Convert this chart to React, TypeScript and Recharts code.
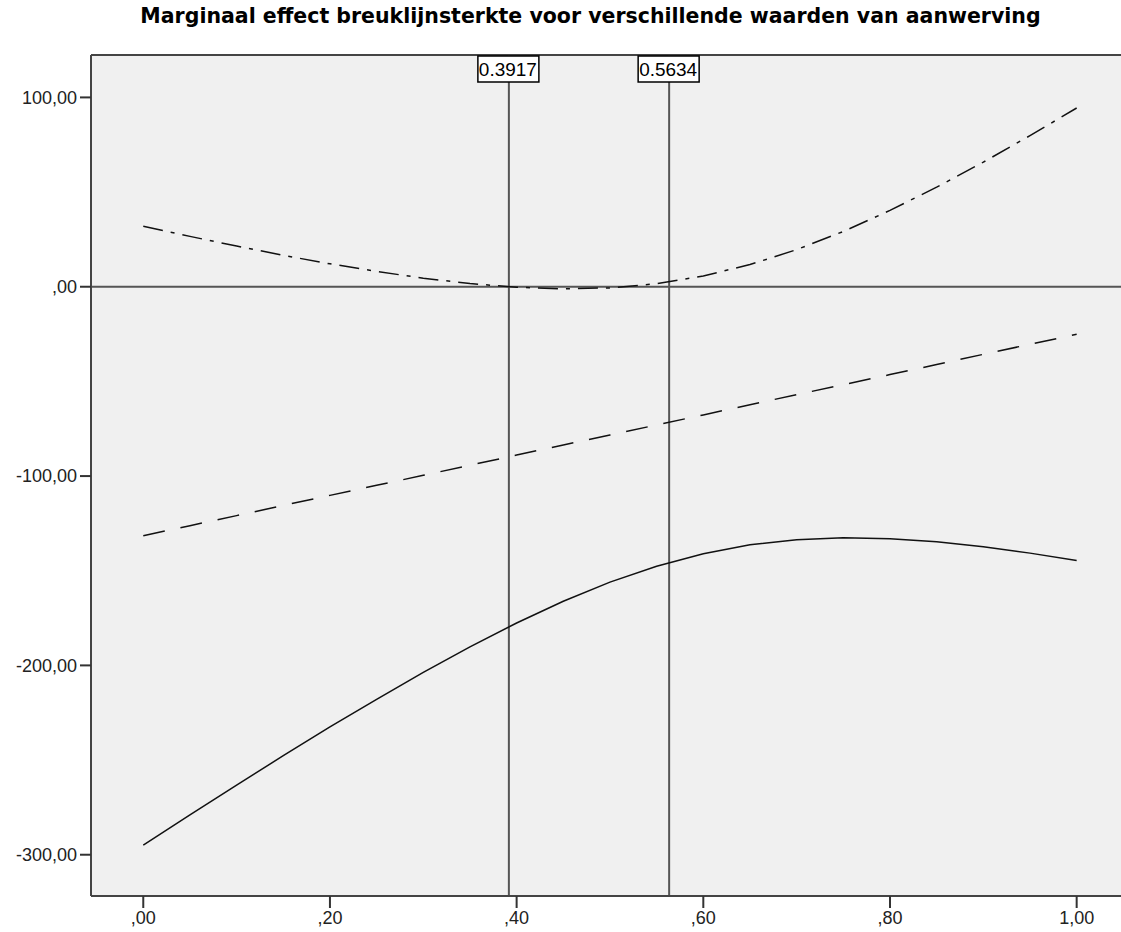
import React from 'react';
import { LineChart, Line, XAxis, YAxis, ReferenceLine, ReferenceArea } from 'recharts';

const TITLE = 'Marginaal effect breuklijnsterkte voor verschillende waarden van aanwerving';

const xValues = [0, 0.05, 0.1, 0.15, 0.2, 0.25, 0.3, 0.35, 0.4, 0.45, 0.5, 0.55, 0.6, 0.65, 0.7, 0.75, 0.8, 0.85, 0.9, 0.95, 1.0];
const effect = [-131.5, -126.2, -120.9, -115.5, -110.2, -104.9, -99.6, -94.3, -88.9, -83.6, -78.3, -73.0, -67.7, -62.3, -57.0, -51.7, -46.4, -41.1, -35.7, -30.4, -25.1];
const lower = [-294.9, -278.9, -263.2, -247.7, -232.5, -217.9, -203.7, -190.2, -177.6, -166.1, -156.0, -147.6, -141.0, -136.3, -133.6, -132.6, -133.1, -134.7, -137.3, -140.7, -144.6];
const upper = [31.9, 26.6, 21.5, 16.6, 12.1, 8.1, 4.5, 1.7, -0.3, -1.1, -0.6, 1.6, 5.7, 11.7, 19.6, 29.2, 40.3, 52.6, 65.8, 79.8, 94.4];

const xTicks = [0, 0.2, 0.4, 0.6, 0.8, 1.0];
const xTickLabels = [',00', ',20', ',40', ',60', ',80', '1,00'];
const yTicks = [-300, -200, -100, 0, 100];
const yTickLabels = ['-300,00', '-200,00', '-100,00', ',00', '100,00'];
const jnPoints = [0.3917, 0.5634];
const jnLabels = ['0.3917', '0.5634'];

const X_DOMAIN: [number, number] = [-0.056, 1.0475];
const Y_DOMAIN: [number, number] = [-321.8, 122.4];

const data = xValues.map((x, i) => ({ x, effect: effect[i], lower: lower[i], upper: upper[i] }));

const FONT = '"Liberation Sans", Arial, sans-serif';

const makeLabel = (text: string) => (props: any) => {
  const vb = props.viewBox || {};
  const x = vb.x ?? 0;
  const y = vb.y ?? 0;
  return (
    <g>
      <rect x={x - 31} y={y + 1} width={61} height={26} fill="#ffffff" stroke="#000000" strokeWidth={1.5} />
      <text x={x - 1} y={y + 21} textAnchor="middle" fontSize={17.5} fontFamily={FONT} fill="#000" textLength={58} lengthAdjust="spacingAndGlyphs">{text}</text>
    </g>
  );
};

export default function App() {
  return (
    <div style={{ position: 'absolute', left: 0, top: 0, width: 1121, height: 932, background: '#fff', overflow: 'hidden' }}>
      <div
        style={{
          position: 'absolute',
          left: 30,
          top: 4,
          width: 1121,
          textAlign: 'center',
          fontFamily: '"DejaVu Sans", Verdana, sans-serif',
          fontWeight: 'bold',
          fontSize: 20.5,
          color: '#000',
          whiteSpace: 'nowrap',
        }}
      >
        {TITLE}
      </div>
      <LineChart width={1121} height={932} data={data} margin={{ top: 55, right: 0, bottom: 0, left: 0 }}>
        <ReferenceArea
          x1={X_DOMAIN[0]}
          x2={X_DOMAIN[1]}
          y1={Y_DOMAIN[0]}
          y2={Y_DOMAIN[1]}
          fill="#f0f0f0"
          fillOpacity={1}
          stroke="none"
        />
        <ReferenceLine y={Y_DOMAIN[1]} stroke="#444" strokeWidth={2} />
        <XAxis
          type="number"
          dataKey="x"
          domain={X_DOMAIN}
          allowDataOverflow
          ticks={xTicks}
          tickFormatter={(v: number, i: number) => xTickLabels[xTicks.indexOf(v)] ?? xTickLabels[i]}
          height={36}
          tickSize={12}
          tickMargin={3}
          axisLine={{ stroke: '#444', strokeWidth: 2 }}
          tickLine={{ stroke: '#333', strokeWidth: 2 }}
          tick={{ fill: '#222', fontSize: 18, fontFamily: FONT }}
          interval={0}
        />
        <YAxis
          type="number"
          domain={Y_DOMAIN}
          allowDataOverflow
          ticks={yTicks}
          tickFormatter={(v: number, i: number) => yTickLabels[yTicks.indexOf(v)] ?? yTickLabels[i]}
          width={91}
          tickSize={11}
          tickMargin={3}
          axisLine={{ stroke: '#444', strokeWidth: 2 }}
          tickLine={{ stroke: '#333', strokeWidth: 2 }}
          tick={{ fill: '#222', fontSize: 18, fontFamily: FONT }}
          interval={0}
        />
        <ReferenceLine y={0} stroke="#555" strokeWidth={2} />
        {jnPoints.map((p, i) => (
          <ReferenceLine key={p} x={p} stroke="#555" strokeWidth={2} label={makeLabel(jnLabels[i])} />
        ))}
        <Line type="linear" dataKey="lower" stroke="#111" strokeWidth={1.5} dot={false} isAnimationActive={false} />
        <Line type="linear" dataKey="effect" stroke="#111" strokeWidth={1.5} strokeDasharray="22 16" dot={false} isAnimationActive={false} />
        <Line type="linear" dataKey="upper" stroke="#111" strokeWidth={1.5} strokeDasharray="20 8 4 8" dot={false} isAnimationActive={false} />
      </LineChart>
    </div>
  );
}
